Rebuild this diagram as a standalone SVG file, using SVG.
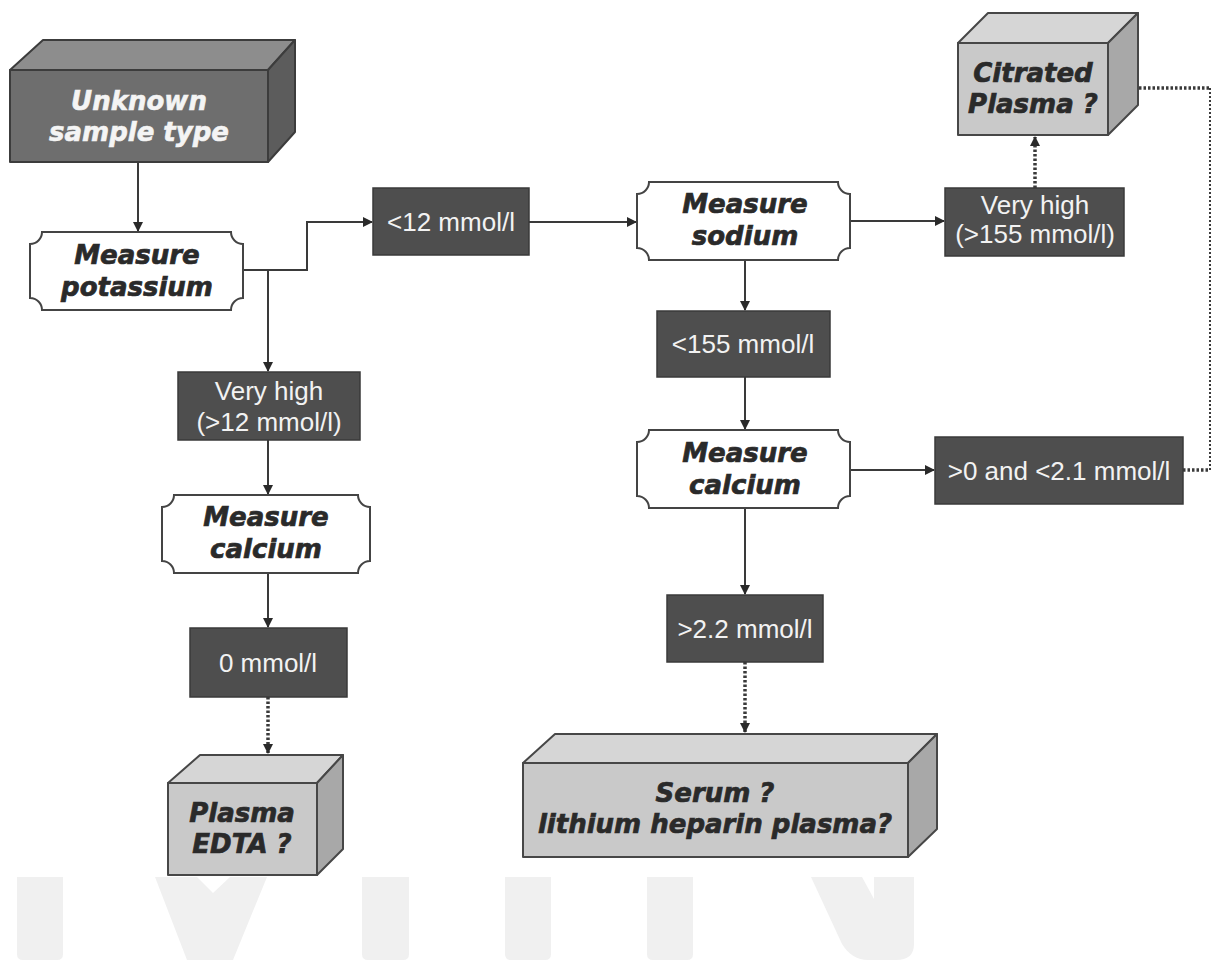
<svg xmlns="http://www.w3.org/2000/svg" width="1213" height="960" viewBox="0 0 1213 960">
<style>
.plaque{fill:#ffffff;stroke:#444444;stroke-width:2}
.dark{fill:#4e4e4e;stroke:#3a3a3a;stroke-width:1.5}
.dtxt{font-family:"Liberation Sans",Arial,sans-serif;font-size:26px;fill:#f2f2f2;text-anchor:middle}
.btxt{font-family:"DejaVu Sans",sans-serif;font-size:26px;font-weight:bold;font-style:italic;fill:#2a2a2a;stroke:#2a2a2a;stroke-width:0.7;text-anchor:middle}
.wtxt{font-family:"DejaVu Sans",sans-serif;font-size:26px;font-weight:bold;font-style:italic;fill:#f4f4f4;stroke:#f4f4f4;stroke-width:0.6;text-anchor:middle}
.lfront{fill:#c9c9c9;stroke:#474747;stroke-width:2;stroke-linejoin:round}
.ltop{fill:#d6d6d6;stroke:#474747;stroke-width:2;stroke-linejoin:round}
.lside{fill:#a8a8a8;stroke:#474747;stroke-width:2;stroke-linejoin:round}
.gfront{fill:#6e6e6e;stroke:#3c3c3c;stroke-width:2;stroke-linejoin:round}
.gtop{fill:#8d8d8d;stroke:#3c3c3c;stroke-width:2;stroke-linejoin:round}
.gside{fill:#5c5c5c;stroke:#3c3c3c;stroke-width:2;stroke-linejoin:round}
.line{fill:none;stroke:#3a3a3a;stroke-width:2}
.dot{fill:none;stroke:#3a3a3a;stroke-width:3.5;stroke-dasharray:2.5 2}
.dotthin{fill:none;stroke:#3a3a3a;stroke-width:2;stroke-dasharray:2 2}
.wm{fill:#f0f0f0}
</style>
<defs>
<marker id="ah" viewBox="0 0 10 10" refX="9" refY="5" markerWidth="5" markerHeight="5" orient="auto" markerUnits="strokeWidth">
<path d="M0,0 L10,5 L0,10 z" fill="#2a2a2a"/>
</marker>
<marker id="ahd" viewBox="0 0 10 10" refX="9" refY="5" markerWidth="3" markerHeight="3" orient="auto" markerUnits="strokeWidth">
<path d="M0,0 L10,5 L0,10 z" fill="#2a2a2a"/>
</marker>
</defs>
<rect x="0" y="0" width="1213" height="960" fill="#ffffff"/>

<g id="watermark">
<path class="wm" d="M17,877 H63 V954 Q63,960 57,960 H23 Q17,960 17,954 Z"/>
<path class="wm" d="M155,877 H197 L213,893 L230,877 H267 L233,960 H187 Z"/>
<path class="wm" d="M362,877 H409 V954 Q409,960 403,960 H368 Q362,960 362,954 Z"/>
<path class="wm" d="M505,877 H551 V954 Q551,960 545,960 H511 Q505,960 505,954 Z"/>
<path class="wm" d="M647,877 H693 V954 Q693,960 687,960 H653 Q647,960 647,954 Z"/>
<path class="wm" d="M811,877 H862 L874,899 V877 H914 V944 Q914,960 896,960 H868 Q852,960 842,944 Z"/>
</g>

<g id="connectors">
<path class="line" d="M138,162 V231" marker-end="url(#ah)"/>
<path class="line" d="M243,270 H307 V222 H372" marker-end="url(#ah)"/>
<path class="line" d="M268,270 V371" marker-end="url(#ah)"/>
<path class="line" d="M268,440 V494" marker-end="url(#ah)"/>
<path class="line" d="M268,573 V627" marker-end="url(#ah)"/>
<path class="dot" d="M268,697 V753" marker-end="url(#ahd)"/>
<path class="line" d="M529,222 H636" marker-end="url(#ah)"/>
<path class="line" d="M850,221 H944" marker-end="url(#ah)"/>
<path class="dot" d="M1035,188 V137" marker-end="url(#ahd)"/>
<path class="line" d="M745,260 V310" marker-end="url(#ah)"/>
<path class="line" d="M745,377 V429" marker-end="url(#ah)"/>
<path class="line" d="M850,470 H934" marker-end="url(#ah)"/>
<path class="line" d="M745,508 V594" marker-end="url(#ah)"/>
<path class="dot" d="M745,662 V732" marker-end="url(#ahd)"/>
<path class="dot" d="M1183,470 H1209"/>
<path class="dotthin" d="M1210,470 V88"/>
<path class="dot" d="M1209,88 H1113" marker-end="url(#ahd)"/>
</g>

<g id="unknown">
<path class="gtop" d="M10,70 L43,40 H295 L268,70 Z"/>
<path class="gside" d="M268,70 L295,40 V132 L268,162 Z"/>
<rect class="gfront" x="10" y="70" width="258" height="92"/>
<text class="wtxt" x="139" y="110">Unknown</text>
<text class="wtxt" x="139" y="141">sample type</text>
</g>

<g id="potassium">
<path class="plaque" d="M42,232 H231 A12,12 0 0 0 243,244 V298 A12,12 0 0 0 231,310 H42 A12,12 0 0 0 30,298 V244 A12,12 0 0 0 42,232 Z"/>
<text class="btxt" x="137" y="264">Measure</text>
<text class="btxt" x="137" y="296">potassium</text>
</g>

<g id="lt12">
<rect class="dark" x="373" y="188" width="156" height="67"/>
<text class="dtxt" x="451" y="231">&lt;12 mmol/l</text>
</g>

<g id="sodium">
<path class="plaque" d="M649,182 H838 A12,12 0 0 0 850,194 V248 A12,12 0 0 0 838,260 H649 A12,12 0 0 0 637,248 V194 A12,12 0 0 0 649,182 Z"/>
<text class="btxt" x="745" y="213">Measure</text>
<text class="btxt" x="745" y="245">sodium</text>
</g>

<g id="veryhigh155">
<rect class="dark" x="945" y="188" width="179" height="68"/>
<text class="dtxt" x="1035" y="214">Very high</text>
<text class="dtxt" x="1035" y="243">(&gt;155 mmol/l)</text>
</g>

<g id="citrated">
<path class="ltop" d="M958,43 L988,13 H1138 L1108,43 Z"/>
<path class="lside" d="M1108,43 L1138,13 V105 L1108,135 Z"/>
<rect class="lfront" x="958" y="43" width="150" height="92"/>
<text class="btxt" x="1033" y="82">Citrated</text>
<text class="btxt" x="1033" y="113">Plasma ?</text>
</g>

<g id="veryhigh12">
<rect class="dark" x="178" y="372" width="182" height="68"/>
<text class="dtxt" x="269" y="400">Very high</text>
<text class="dtxt" x="269" y="431">(&gt;12 mmol/l)</text>
</g>

<g id="calcium1">
<path class="plaque" d="M174,495 H358 A12,12 0 0 0 370,507 V561 A12,12 0 0 0 358,573 H174 A12,12 0 0 0 162,561 V507 A12,12 0 0 0 174,495 Z"/>
<text class="btxt" x="266" y="526">Measure</text>
<text class="btxt" x="266" y="558">calcium</text>
</g>

<g id="zero">
<rect class="dark" x="190" y="628" width="157" height="69"/>
<text class="dtxt" x="268" y="672">0 mmol/l</text>
</g>

<g id="edta">
<path class="ltop" d="M168,783 L200,755 H343 L317,783 Z"/>
<path class="lside" d="M317,783 L343,755 V849 L317,875 Z"/>
<rect class="lfront" x="168" y="783" width="149" height="92"/>
<text class="btxt" x="242" y="822">Plasma</text>
<text class="btxt" x="242" y="853">EDTA ?</text>
</g>

<g id="lt155">
<rect class="dark" x="657" y="311" width="173" height="66"/>
<text class="dtxt" x="743" y="353">&lt;155 mmol/l</text>
</g>

<g id="calcium2">
<path class="plaque" d="M649,430 H838 A12,12 0 0 0 850,442 V496 A12,12 0 0 0 838,508 H649 A12,12 0 0 0 637,496 V442 A12,12 0 0 0 649,430 Z"/>
<text class="btxt" x="745" y="462">Measure</text>
<text class="btxt" x="745" y="494">calcium</text>
</g>

<g id="range">
<rect class="dark" x="935" y="437" width="248" height="67"/>
<text class="dtxt" x="1059" y="480">&gt;0 and &lt;2.1 mmol/l</text>
</g>

<g id="gt22">
<rect class="dark" x="667" y="595" width="156" height="67"/>
<text class="dtxt" x="745" y="638">&gt;2.2 mmol/l</text>
</g>

<g id="serum">
<path class="ltop" d="M523,763 L555,734 H937 L908,763 Z"/>
<path class="lside" d="M908,763 L937,734 V829 L908,857 Z"/>
<rect class="lfront" x="523" y="763" width="385" height="94"/>
<text class="btxt" x="715" y="802">Serum ?</text>
<text class="btxt" x="715" y="833">lithium heparin plasma?</text>
</g>
</svg>
